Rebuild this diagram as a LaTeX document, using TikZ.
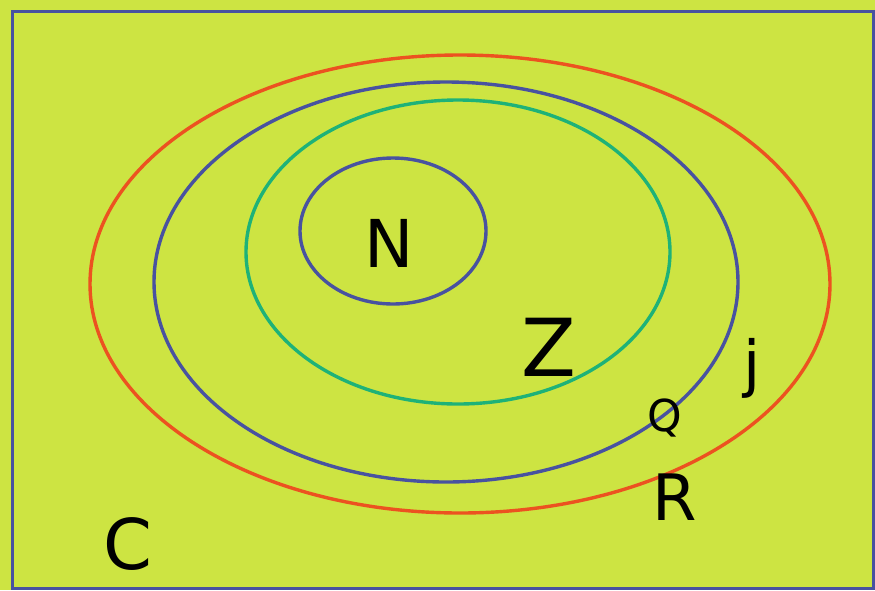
\documentclass[tikz,border=0pt]{standalone}
\usepackage{fontspec}
\setmainfont{DejaVu Sans}
\definecolor{lime}{RGB}{205,228,66}
\definecolor{bblue}{RGB}{72,82,160}
\definecolor{rred}{RGB}{236,82,32}
\definecolor{ggreen}{RGB}{30,178,120}
\begin{document}
\begin{tikzpicture}[x=1pt,y=-1pt,
  ring/.style={line width=3.4pt},
  setlbl/.style={text=black,inner sep=0pt,font=\fontsize{#1}{#1}\selectfont}]
\fill[lime] (0,0) rectangle (875,590);
\useasboundingbox (0,0) rectangle (875,590);
\draw[bblue,line width=3pt] (12,11) rectangle (873,588);
\draw[ring,rred] (460,284) ellipse [x radius=370,y radius=229];
\draw[ring,bblue] (446,282) ellipse [x radius=292,y radius=200];
\draw[ring,ggreen] (458,252) ellipse [x radius=212,y radius=152];
\draw[ring,bblue] (393,231) ellipse [x radius=93,y radius=73];
\node[setlbl=66] (n) at (389,243) {N};
\node[setlbl=80] (z) at (549,347) {Z};
\node[setlbl=44] (q) at (665,418) {Q};
\node[setlbl=64] (r) at (675,497) {R};
\node[setlbl=62] (j) at (752,368) {j};
\node[setlbl=70] (c) at (128,544) {C};
\end{tikzpicture}
\end{document}
